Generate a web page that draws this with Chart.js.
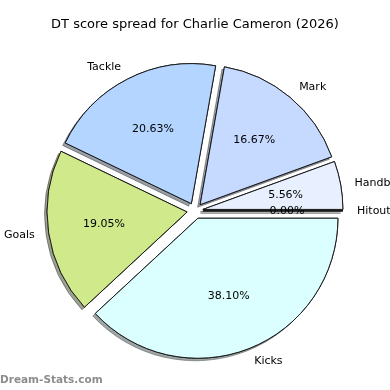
<!DOCTYPE html>
<html>
<head>
<meta charset="utf-8">
<script src="https://cdn.jsdelivr.net/npm/chart.js@4"></script>
<style>
  html, body { margin: 0; padding: 0; background: #fff; }
  #wrap { width: 390px; height: 390px; }
</style>
</head>
<body>
<div id="wrap"><canvas id="pieChart"></canvas></div>
<script>
// slices run clockwise from 3 o'clock (matplotlib draws them the other way round)
const categories = ['Kicks', 'Goals', 'Tackle', 'Mark', 'Handball', 'Hitout'];
const scores = [48, 24, 26, 21, 7, 0];
const sliceColors = ['#dbffff', '#d0e98a', '#b3d5ff', '#c6d9ff', '#e8f0ff', '#f0f0ff'];

const EXPLODE = 8;
const FONT = 'DejaVu Sans';

function shadowOf(hex) {
    const n = parseInt(hex.slice(1), 16);
    const r = (n >> 16) & 255, g = (n >> 8) & 255, b = n & 255;
    return `rgba(${Math.round(r * 0.3)},${Math.round(g * 0.3)},${Math.round(b * 0.3)},0.5)`;
}

function shift(arc) {
    const mid = (arc.startAngle + arc.endAngle) / 2;
    return [Math.cos(mid) * EXPLODE, Math.sin(mid) * EXPLODE];
}

// draw exploded wedges with a shadow under all of them
const explodedPie = {
    id: 'explodedPie',
    beforeDatasetsDraw(chart) {
        const ctx = chart.ctx;
        const arcs = chart.getDatasetMeta(0).data;
        [true, false].forEach(withShadow => {
            arcs.forEach((arc, i) => {
                const [dx, dy] = shift(arc);
                ctx.save();
                ctx.translate(dx, dy);
                if (withShadow) {
                    ctx.shadowColor = shadowOf(sliceColors[i]);
                    ctx.shadowOffsetX = -2.5;
                    ctx.shadowOffsetY = 2.5;
                    ctx.shadowBlur = 0;
                }
                if (arc.endAngle - arc.startAngle > 0) {
                    arc.draw(ctx);
                } else {
                    // empty wedge: matplotlib still draws its edge
                    ctx.beginPath();
                    ctx.moveTo(arc.x, arc.y);
                    ctx.lineTo(arc.x + Math.cos(arc.startAngle) * arc.outerRadius,
                               arc.y + Math.sin(arc.startAngle) * arc.outerRadius);
                    ctx.lineWidth = 1.5;
                    ctx.strokeStyle = '#1a1a1a';
                    ctx.stroke();
                }
                ctx.restore();
            });
        });
        return false;
    },
    afterDraw(chart) {
        const ctx = chart.ctx;
        const arcs = chart.getDatasetMeta(0).data;
        const total = scores.reduce((a, b) => a + b, 0);
        ctx.save();
        ctx.fillStyle = '#000';
        ctx.textBaseline = 'middle';
        ctx.font = `11px "${FONT}"`;
        arcs.forEach((arc, i) => {
            const mid = (arc.startAngle + arc.endAngle) / 2;
            const [dx, dy] = shift(arc);
            const cx = arc.x + dx, cy = arc.y + dy;
            const r = arc.outerRadius;
            const lx = cx + Math.cos(mid) * r * 1.1;
            const ly = cy + Math.sin(mid) * r * 1.1;
            ctx.textAlign = Math.cos(mid) * r * 1.1 + dx > 0 ? 'left' : 'right';
            ctx.fillText(categories[i], lx, ly);
            ctx.textAlign = 'center';
            const pct = (scores[i] / total * 100).toFixed(2) + '%';
            ctx.fillText(pct, cx + Math.cos(mid) * r * 0.6, cy + Math.sin(mid) * r * 0.6);
        });
        ctx.font = `bold 10.5px "${FONT}"`;
        ctx.fillStyle = 'rgba(120,120,120,0.85)';
        ctx.textAlign = 'left';
        ctx.fillText('Dream-Stats.com', 0, 380);
        ctx.restore();
    }
};

new Chart(document.getElementById('pieChart'), {
    type: 'pie',
    data: {
        labels: categories,
        datasets: [{
            data: scores,
            backgroundColor: sliceColors,
            borderColor: '#1a1a1a',
            borderWidth: 1
        }]
    },
    options: {
        responsive: true,
        maintainAspectRatio: false,
        animation: false,
        events: [],
        rotation: 90,
        radius: 140,
        layout: { padding: { left: 21, right: 21, top: 0, bottom: 11 } },
        plugins: {
            legend: { display: false },
            tooltip: { enabled: false },
            title: {
                display: true,
                text: 'DT score spread for Charlie Cameron (2026)',
                color: '#000',
                font: { family: FONT, size: 13, weight: 'normal', lineHeight: 1.2 },
                padding: { top: 17, bottom: 10 }
            }
        }
    },
    plugins: [explodedPie]
});
</script>
</body>
</html>
